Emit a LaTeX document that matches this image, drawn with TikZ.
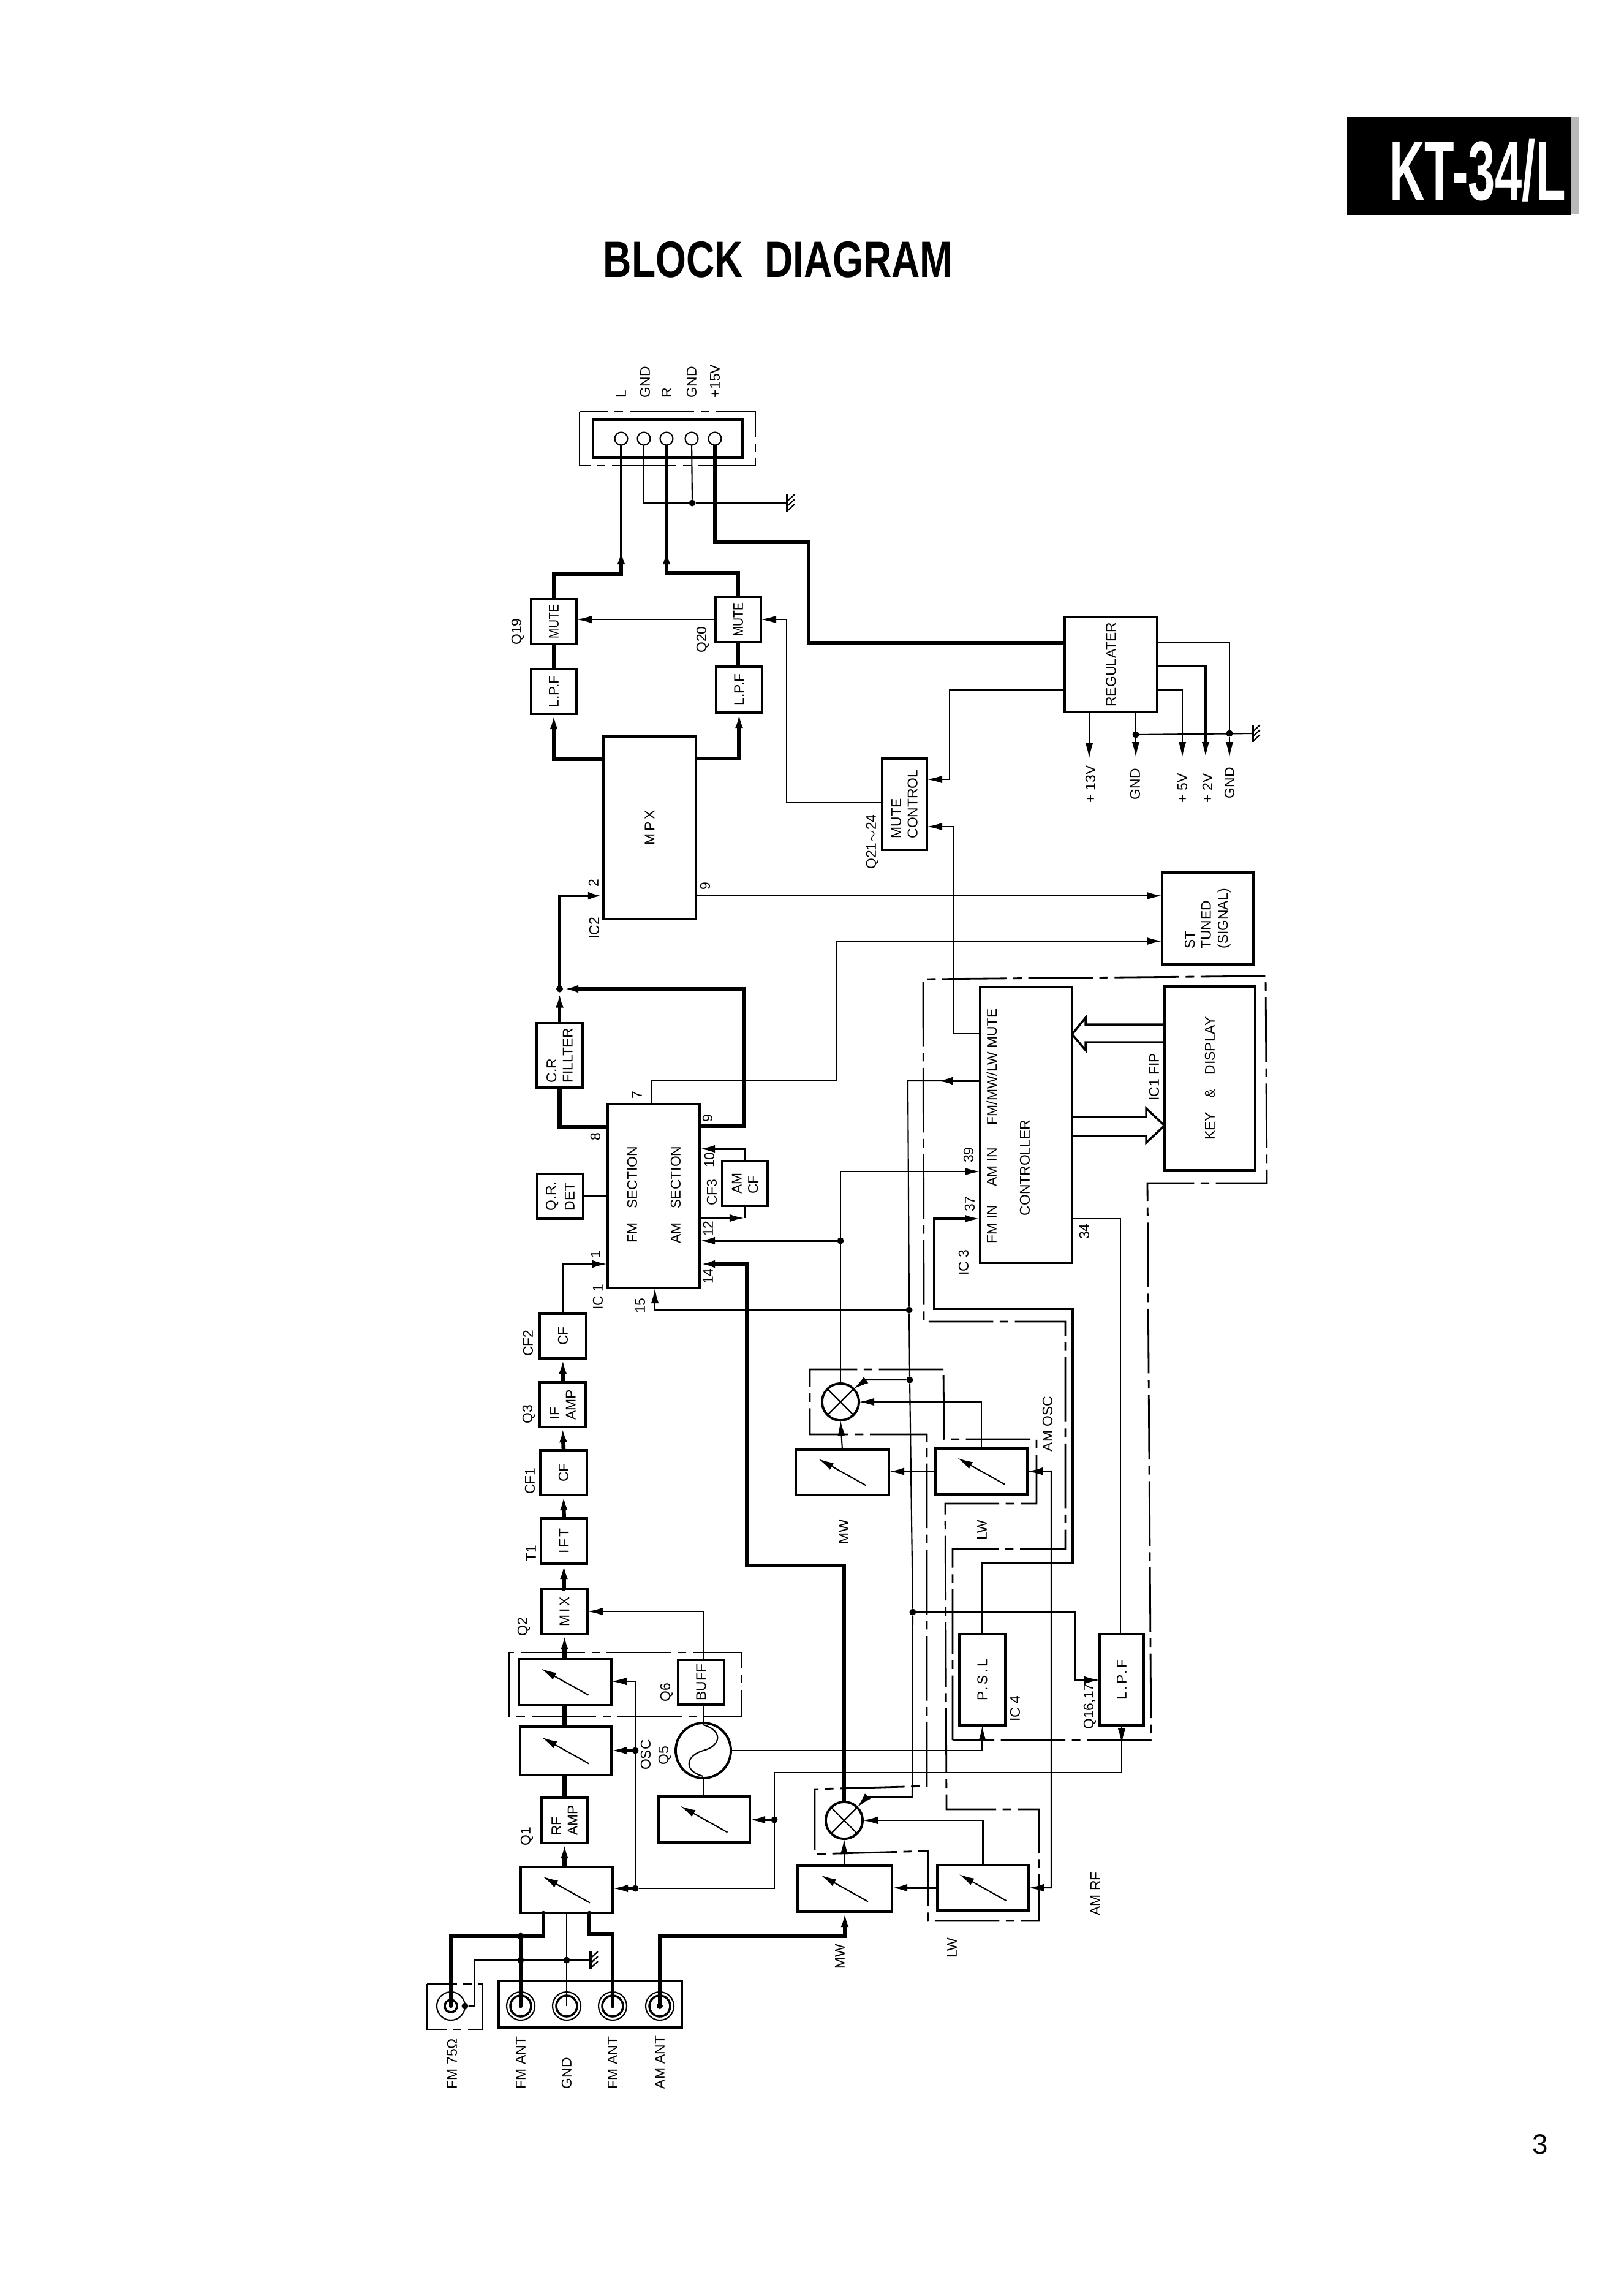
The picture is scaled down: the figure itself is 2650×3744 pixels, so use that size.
\documentclass[tikz,border=0pt]{standalone}
\usepackage{fontspec}
\setmainfont{Liberation Sans}
\newfontfamily\widefont[LetterSpace=16]{Liberation Sans}
\usetikzlibrary{arrows.meta}

% block from its corners, text turned with the sheet
\newcommand{\blockat}[6]{\node[blockbox, minimum width={(#4-#2)*0.01cm}, minimum height={(#5-#3)*0.01cm}] (#1) at ({(#2+#4)/2},{(#3+#5)/2}) {\rotatebox{90}{\shortstack[l]{#6}}};}
\newcommand{\tunerat}[5]{\blockat{#1}{#2}{#3}{#4}{#5}{}
  \draw[thinlink,->] ([shift={(38,21)}]#1.center) -- ([shift={(-39,-22)}]#1.center);}
\newcommand{\jackat}[3]{\node[jackring] (#1) at (#2,#3) {};
  \node[jackcore] (#1core) at (#2,#3) {};}
\newcommand{\groundat}[3]{\coordinate (#1) at (#2,#3);
  \draw[midlink] (#2,#3-14) -- (#2,#3+14);
  \foreach \k in {-8,0,8} \draw[thinlink] (#2,#3+\k+5) -- (#2+12,#3+\k-6);}

\begin{document}
\begin{tikzpicture}[x=0.01cm, y=-0.01cm,
  >={Latex[length=0.25cm,width=0.125cm]},
  every node/.style={font=\fontsize{6.5}{8}\selectfont, inner sep=0pt, outer sep=0pt},
  blockbox/.style={draw, line width=1.1pt, rectangle},
  thinlink/.style={line width=0.6pt},
  midlink/.style={line width=1pt},
  heavylink/.style={line width=1.4pt},
  thicklink/.style={line width=1.9pt},
  dashlink/.style={line width=0.8pt, dash pattern=on 30pt off 3pt on 4pt off 3pt},
  jdot/.style={circle, fill=black, minimum size=0.11cm},
  jackring/.style={circle, draw, line width=0.6pt, minimum size=0.46cm},
  jackcore/.style={circle, draw, line width=1pt, minimum size=0.34cm},
  pinring/.style={circle, draw, line width=0.6pt, minimum size=0.21cm},
  lbl/.style={rotate=90},
  lblw/.style={rotate=90, anchor=west}]
\useasboundingbox (0,0) rectangle (2650,3744);

% Header
\node[font=\fontsize{23.7}{28}\selectfont\bfseries] (title) at (1270,424) {\scalebox{0.77}[1]{BLOCK\ \ DIAGRAM}};
\fill[gray!55] (2565,191) rectangle (2578,350);
\node[fill=black, minimum width=3.66cm, minimum height=1.6cm] (tab) at (2382,271) {};
\node[font=\fontsize{39}{40}\selectfont\bfseries, text=white] (model) at (2412,278) {\scalebox{0.58}[1]{KT-34/L}};
\node[font=\fontsize{13}{14}\selectfont] (pageno) at (2514,3500) {3};

% Antenna terminals
\node[draw, line width=1.1pt, minimum width=2.99cm, minimum height=0.76cm] (antbox) at (963.5,3271) {};
\draw[dashlink] (697,3238) rectangle (788,3312);
\node[jackring] (jackfmo) at (736,3274) {};
\node[circle, draw, line width=1pt, minimum size=0.2cm] (jackfmocore) at (736,3274) {};
\jackat{jackfma}{850}{3274}
\jackat{jackgnd}{925}{3274}
\jackat{jackfmb}{1000}{3274}
\jackat{jackam}{1077}{3274}
\node[jdot] (dfmo) at (759,3274) {};
\node[lblw] (lbfmo) at (738,3409) {FM 75Ω};
\node[lblw] (lbfma) at (850,3409) {FM ANT};
\node[lblw] (lbgnd) at (925,3409) {GND};
\node[lblw] (lbfmb) at (1000,3409) {FM ANT};
\node[lblw] (lbam) at (1077,3409) {AM ANT};

% FM chain
\tunerat{tqone}{850}{3047}{1000}{3122}
\blockat{rfamp}{884}{2934}{959}{3008}{RF\\AMP}
\tunerat{tqtwo}{849}{2818}{998}{2897}
\tunerat{tqthree}{847}{2708}{998}{2783}
\blockat{mix}{884}{2593}{959}{2667}{\widefont MIX}
\blockat{ift}{883}{2478}{958}{2552}{\widefont IFT}
\blockat{cfa}{882}{2367}{958}{2440}{CF}
\blockat{ifamp}{881}{2256}{956}{2329}{IF\\AMP}
\blockat{cfb}{881}{2144}{957}{2217}{CF}
\blockat{ic1}{992}{1802}{1142}{2102}{}
\blockat{qrdet}{877}{1916}{952}{1989}{Q.R.\\DET}
\blockat{crf}{876}{1670}{951}{1775}{C.R\\FILLTER}
\blockat{amcf}{1179}{1895}{1253}{1968}{AM\\CF}
\node[lbl] (lbfmsec) at (1032,1950) {FM\quad SECTION};
\node[lbl] (lbamsec) at (1103,1950) {AM\quad SECTION};
\blockat{buff}{1107}{2709}{1182}{2782}{BUFF}
\draw[dashlink] (831,2697) rectangle (1211,2801);
\node[circle, draw, line width=1.1pt, minimum size=0.9cm] (osc) at (1148,2857) {};
\draw[thinlink] (1148,2815) .. controls (1182,2825) and (1176,2850) .. (1148,2857) .. controls (1120,2865) and (1114,2890) .. (1148,2899);
\tunerat{tqfive}{1075}{2932}{1224}{3007}

% Stereo end
\blockat{mpx}{985}{1202}{1136}{1500}{\widefont MPX}
\blockat{lpfl}{867}{1092}{941}{1165}{L.P.F}
\blockat{lpfr}{1169}{1088}{1244}{1163}{L.P.F}
\blockat{mutel}{867}{978}{941}{1051}{\scalebox{0.85}[1]{MUTE}}
\blockat{muter}{1168}{974}{1242}{1048}{\scalebox{0.85}[1]{MUTE}}
\blockat{reg}{1738}{1007}{1889}{1162}{REGULATER}
\blockat{mutec}{1440}{1238}{1513}{1387}{MUTE\\CONTROL}
\blockat{sttuned}{1897}{1424}{2046}{1574}{ST\\TUNED\\(SIGNAL)}

% Output socket
\draw[dashlink] (946,672) rectangle (1233,760);
\node[draw, line width=1.1pt, minimum width=2.44cm, minimum height=0.62cm] (outbox) at (1090,716) {};
\node[pinring] (pinl) at (1014,716) {};
\node[pinring] (pingnda) at (1051,716) {};
\node[pinring] (pinr) at (1088,716) {};
\node[pinring] (pingndb) at (1129,716) {};
\node[pinring] (pinv) at (1167,716) {};
\node[lblw] (lbl) at (1014,649) {L};
\node[lblw] (lbga) at (1053,649) {GND};
\node[lblw] (lbr) at (1088,649) {R};
\node[lblw] (lbgb) at (1129,649) {GND};
\node[lblw] (lbv) at (1167,649) {+15V};
\node[jdot] (dout) at (1130,821) {};
\groundat{gndout}{1285}{821}

% Tuner side
\tunerat{tmwa}{1302}{3045}{1456}{3120}
\tunerat{tlwa}{1530}{3044}{1679}{3118}
\tunerat{tmwb}{1299}{2366}{1451}{2440}
\tunerat{tlwb}{1527}{2364}{1677}{2439}
\node[circle, draw, line width=1.1pt, minimum size=0.6cm] (mixam) at (1378,2971) {};
\node[circle, draw, line width=1.1pt, minimum size=0.6cm] (mixup) at (1372,2288) {};
\draw[thinlink] (mixam.north west) -- (mixam.south east) (mixam.north east) -- (mixam.south west);
\draw[thinlink] (mixup.north west) -- (mixup.south east) (mixup.north east) -- (mixup.south west);
\blockat{psl}{1566}{2667}{1641}{2816}{\widefont P.S.L}
\blockat{lpfb}{1795}{2667}{1867}{2816}{\widefont L.P.F}
\blockat{ctrl}{1600}{1611}{1750}{2061}{}
\blockat{keybox}{1901}{1610}{2049}{1910}{KEY\quad \&\quad DISPLAY}
\node[lbl] (lbmute) at (1619,1741) {FM/MW/LW MUTE};
\node[lbl] (lbamin) at (1619,1905) {AM IN};
\node[lbl] (lbfmin) at (1619,1998) {FM IN};
\node[lbl] (lbctrl) at (1673,1906) {CONTROLLER};

% Junctions
\node[jdot] (dfma) at (850,3160) {};
\node[jdot] (dgnda) at (850,3199) {};
\node[jdot] (dgndb) at (925,3199) {};
\groundat{gndant}{964}{3199}
\node[jdot] (dqone) at (1037,3082) {};
\node[jdot] (dqtwo) at (1037,2857) {};
\node[jdot] (dqfive) at (1264,2970) {};
\node[jdot] (dcr) at (913.5,1614) {};
\node[jdot] (dam) at (1372,2025) {};
\node[jdot] (dfb) at (1484,2138) {};
\node[jdot] (dmixu) at (1485,2252) {};
\node[jdot] (dlpf) at (1490,2631) {};
\node[jdot] (dregl) at (1854,1199) {};
\node[jdot] (dregr) at (2007,1197) {};
\groundat{gndreg}{2045}{1197}

% Thick signal
\draw[thicklink, line cap=round] (jackfmo.center) -- (736,3160) -- (dfma) -- (887,3160) -- (tqone.south -| 887,0);
\draw[thicklink, line cap=round] (jackfma.center) -- (dfma);
\draw[thicklink, line cap=round] (jackfmb.center) -- (1000,3157) -- (962,3157) -- (tqone.south -| 962,0);
\draw[thicklink,->] (jackam.center) -- (1077,3160) -- (1379,3160) -- (tmwa.south);
\fill (jackam.center) circle (5);
\draw[thicklink,->] (rfamp.south |- tqone.north) -- (rfamp.south);
\draw[thicklink] (rfamp.north) -- (rfamp.north |- tqtwo.south);
\draw[thicklink] (rfamp.north |- tqtwo.north) -- (rfamp.north |- tqthree.south);
\draw[thicklink,->] (mix.south |- tqthree.north) -- (mix.south);
\draw[thicklink,->] (mix.north) -- (mix.north -| ift.south) -- (ift.south);
\draw[thicklink,->] (ift.north) -- (cfa.south);
\draw[thicklink,->] (cfa.north) -- (ifamp.south);
\draw[thicklink,->] (ifamp.north) -- (cfb.south);
\draw[midlink,->] (cfb.north) -- (cfb.north |- 0,2063) -- (ic1.west |- 0,2063);
\draw[thicklink] (ic1.west |- 0,1839) -- (crf.south |- 0,1839) -- (crf.south);
\draw[heavylink,->] (crf.north) -- (dcr);
\draw[heavylink,->] (dcr) -- (dcr |- 0,1462) -- (mpx.west |- 0,1462);
\draw[thicklink,->] (ic1.east |- 0,1838) -- (1215,1838) -- (1215,1614) -- (dcr);
\draw[thicklink,->] (mixam.north) -- (1378,2555) -- (1219,2555) -- (1219,2063) -- (ic1.east |- 0,2063);
\draw[thicklink] (mutel.south) -- (lpfl.north);
\draw[thicklink] (muter.south) -- (lpfr.north -| muter.south);
\draw[thicklink,->] (mpx.west |- 0,1239) -- (lpfl.south |- 0,1239) -- (lpfl.south);
\draw[thicklink,->] (mpx.east |- 0,1238) -- (lpfr.south |- 0,1238) -- (lpfr.south);
\draw[thicklink,->] (mutel.north) -- (904,937) -- (1014,937) -- (1014,896);
\draw[heavylink] (1014,912) -- (pinl.south);
\draw[thicklink,->] (muter.north) -- (1205,935) -- (1088,935) -- (1088,896);
\draw[heavylink] (1088,912) -- (pinr.south);
\draw[thicklink] (pinv.south) -- (1167,885) -- (1320,885) -- (1320,1049) -- (reg.west |- 0,1049);

% Thin signal
\draw[thinlink] (jackgnd.center) -- (tqone.south -| jackgnd.center);
\draw[thinlink] (dfmo) -- (774,3274) -- (774,3199) -- (dgnda) -- (dgndb) -- (gndant);
\draw[thinlink,->] (buff.north -| osc.north) -- (1148,2630) -- (mix.east);
\draw[thinlink] (buff.south -| osc.north) -- (osc.north);
\draw[thinlink] (osc.south) -- (tqfive.north -| osc.south);
\draw[thinlink,->] (osc.east) -- (psl.south |- osc.east) -- (psl.south);
\draw[midlink,->] (dqfive) -- (tqfive.east |- dqfive);
\draw[midlink,->] (dqone) -- (tqone.east |- dqone);
\draw[midlink,->] (dqtwo) -- (tqtwo.east |- dqtwo);
\draw[thinlink,->] (dqtwo) -- (1037,2744) -- (tqthree.east |- 0,2744);
\draw[thinlink] (dqone) -- (dqtwo);
\draw[thinlink,->] (lpfb.south) -- (lpfb.south |- 0,2846);
\draw[thinlink] (lpfb.south |- 0,2840) -- (1831,2893) -- (1264,2893) -- (dqfive) -- (1264,3082) -- (dqone);
\draw[thinlink] (qrdet.east) -- (qrdet.east -| ic1.west);
\draw[thinlink,->] (ic1.north -| 1063,0) -- (1063,1764) -- (1366,1764) -- (1366,1536) -- (sttuned.west |- 0,1536);
\draw[midlink,->] (amcf.north) -- (amcf.north |- 0,1875) -- (ic1.east |- 0,1875);
\draw[midlink,->] (ic1.east |- 0,1988) -- (amcf.south |- 0,1988);
\draw[thinlink] (amcf.south |- 0,1988) -- (amcf.south);
\draw[midlink,->] (dam) -- (ic1.east |- dam);
\draw[thinlink,->] (dfb) -- (1069,2138) -- (ic1.south -| 1069,0);
\draw[thinlink,->] (mixup.north) -- (dam |- 0,1912) -- (ctrl.west |- 0,1912);
\draw[midlink,->] (ctrl.west |- 0,1764) -- (1530,1764);
\draw[thinlink] (1545,1764) -- (1482,1764) -- (dfb) -- (dmixu) -- (dlpf) -- (1489,2933) -- (1415,2933);
\draw[thinlink,->] (1415,2933) -- (mixam.45);
\draw[thinlink,->] (dmixu) -- (1414,2252) -- (mixup.45);
\draw[thinlink,->] (dlpf) -- (1755,2631) -- (1755,2742) -- (lpfb.west |- 0,2742);
\draw[midlink,->] (psl.north) -- (psl.north |- 0,2551) -- (1751,2551) -- (1751,2136) -- (1525,2136) -- (1525,1989) -- (ctrl.west |- 0,1989);
\draw[thinlink] (ctrl.east |- 0,1989) -- (1829,1989) -- (lpfb.north -| 1829,0);
\draw[midlink,->] (tlwa.west) -- (tmwa.east |- tlwa.west);
\draw[thinlink,->] (tmwa.north) -- (mixam.south |- tmwa.north) -- (mixam.south);
\draw[thinlink,->] (tlwa.north) -- (tlwa.north |- mixam.east) -- (mixam.east);
\draw[midlink,->] (tlwb.west) -- (tmwb.east |- tlwb.west);
\draw[thinlink,->] (tmwb.north) -- (mixup.south);
\draw[thinlink,->] (tlwb.north) -- (tlwb.north |- mixup.east) -- (mixup.east);
\draw[thinlink,<->] (tlwa.east) -- (1716,3081) -- (1716,2401) -- (tlwb.east);
\draw[thinlink,->] (muter.west) -- (mutel.east |- muter.west);
\draw[thinlink,->] (mutec.west |- 0,1310) -- (1284,1310) -- (1284,1011) -- (muter.east);
\draw[thinlink,->] (reg.west |- 0,1126) -- (1550,1126) -- (1550,1272) -- (mutec.east |- 0,1272);
\draw[thinlink,->] (ctrl.west |- 0,1687) -- (1556,1687) -- (1556,1349) -- (mutec.east |- 0,1349);
\draw[thinlink,->] (mpx.east |- 0,1462) -- (sttuned.west |- 0,1462);
\draw[thinlink] (pingnda) -- (1051,821) -- (dout) -- (gndout);
\draw[thinlink] (pingndb) -- (dout);
\draw[thinlink] (dregl) -- (gndreg);
\draw[thinlink,->] (reg.south -| 1778,0) -- (1778,1238);
\draw[thinlink] (reg.south -| 1854,0) -- (dregl);
\draw[thinlink,->] (dregl) -- (1854,1236);
\draw[thinlink,->] (reg.east |- 0,1126) -- (1930,1126) -- (1930,1236);
\draw[midlink,->] (reg.east |- 0,1087) -- (1968,1087) -- (1968,1236);
\draw[thinlink] (reg.east |- 0,1049) -- (2007,1049) -- (dregr);
\draw[thinlink,->] (dregr) -- (2007,1236);

% Hollow arrows
\draw[midlink] (keybox.west |- 0,1672) -- (1772,1672) -- (1772,1661) -- (ctrl.east |- 0,1688) -- (1772,1714) -- (1772,1701) -- (keybox.west |- 0,1701);
\draw[midlink] (ctrl.east |- 0,1823) -- (1871,1823) -- (1871,1809) -- (keybox.west |- 0,1837) -- (1871,1865) -- (1871,1854) -- (ctrl.east |- 0,1854);

% Screening
\draw[dashlink] (1540,2235) -- (1322,2235) -- (1322,2341) -- (1513,2341) -- (1513,2915) -- (1330,2920) -- (1330,3026) -- (1515,3021) -- (1515,3135) -- (1696,3135) -- (1696,2953) -- (1545,2953) -- (1543,2454) -- (1692,2454) -- (1692,2349) -- (1541,2349) -- cycle;
\draw[dashlink] (1555,2840) -- (1555,2528) -- (1739,2528) -- (1739,2157) -- (1508,2157) -- (1507,1598) -- (2066,1593) -- (2068,1931) -- (1873,1931) -- (1879,2840) -- cycle;

% Small labels
\node[lbl] (lbqone) at (860,2997) {Q1};
\node[lbl] (lbqtwo) at (855,2655) {Q2};
\node[lbl] (lbtone) at (867,2535) {T1};
\node[lbl] (lbcfa) at (865,2417) {CF1};
\node[lbl] (lbqthree) at (863,2308) {Q3};
\node[lbl] (lbcfb) at (862,2192) {CF2};
\node[lbl] (lbicone) at (976,2117) {IC 1};
\node[lbl] (lbpeight) at (972,1855) {8};
\node[lbl] (lbpone) at (972,2047) {1};
\node[lbl] (lbpseven) at (1040,1787) {7};
\node[lbl] (lbpnine) at (1155,1825) {9};
\node[lbl] (lbpten) at (1158,1893) {10};
\node[lbl] (lbcfc) at (1162,1946) {CF3};
\node[lbl] (lbptwelve) at (1156,2005) {12};
\node[lbl] (lbpfourteen) at (1156,2083) {14};
\node[lbl] (lbpfifteen) at (1045,2131) {15};
\node[lbl] (lbictwo) at (970,1515) {IC2};
\node[lbl] (lbptwo) at (969,1441) {2};
\node[lbl] (lbmnine) at (1151,1446) {9};
\node[lbl] (lbqnineteen) at (845,1031) {Q19};
\node[lbl] (lbqtwenty) at (1147,1044) {Q20};
\node[lbl] (lbqmute) at (1424,1374) {Q21$\sim$24};
\node[lbl] (lbosc) at (1054,2864) {OSC};
\node[lbl] (lbqfive) at (1085,2865) {Q5};
\node[lbl] (lbqsix) at (1088,2762) {Q6};
\node[lbl] (lbicfour) at (1657,2789) {IC 4};
\node[lbl] (lbqlpf) at (1779,2785) {Q16,17};
\node[lbl] (lbamosc) at (1710,2324) {AM OSC};
\node[lbl] (lblwu) at (1603,2497) {LW};
\node[lbl] (lbmwu) at (1377,2500) {MW};
\node[lbl] (lbmwl) at (1371,3193) {MW};
\node[lbl] (lblwl) at (1554,3179) {LW};
\node[lbl] (lbamrf) at (1788,3091) {AM RF};
\node[lbl] (lbfip) at (1884,1758) {IC1 FIP};
\node[lbl] (lbpthirtynine) at (1581,1885) {39};
\node[lbl] (lbpthirtyseven) at (1583,1965) {37};
\node[lbl] (lbicthree) at (1573,2061) {IC 3};
\node[lbl] (lbpthirtyfour) at (1770,2010) {34};
\node[lblw] (lbthirteen) at (1780,1310) {+ 13V};
\node[lblw] (lbgl) at (1853,1305) {GND};
\node[lblw] (lbfive) at (1930,1310) {+ 5V};
\node[lblw] (lbtwo) at (1971,1310) {+ 2V};
\node[lblw] (lbgr) at (2007,1303) {GND};
\end{tikzpicture}
\end{document}
